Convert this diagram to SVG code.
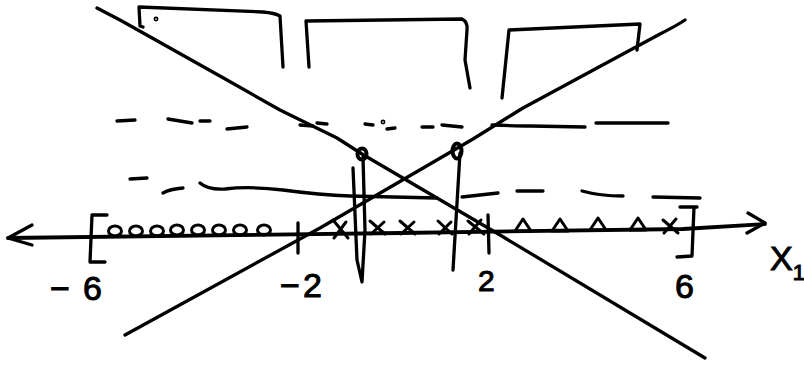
<svg xmlns="http://www.w3.org/2000/svg" width="804" height="365" viewBox="0 0 804 365">
<style>
.s{fill:none;stroke:#000;stroke-width:3.3;stroke-linecap:round;stroke-linejoin:round}
.t{stroke-width:3}
.lbl{font-family:"Liberation Sans",Arial,sans-serif;font-size:34px;fill:#000;stroke:#000;stroke-width:1}
</style>
<rect width="804" height="365" fill="#fff"/>
<g id="connectors">
<path id="lineA" class="s" d="M97,8 L120,20 L227,80 L280,110 L337,138 L362,154 L500,235 L705,358"/>
<path id="lineB" class="s" d="M125,335 L320,228 L473,139 L523,108 L660,34 Q676,26 685,20"/>
</g>
<g id="axis">
<path class="s" style="stroke-width:3.8" d="M8,238 L400,233 L683,229 L765,224"/>
<path class="s" d="M32,225 L8,238 L32,245"/>
<path class="s" d="M748,213 L765,223 L747,233"/>
<path class="s" d="M298,223 L298,253"/>
<path class="s" d="M488,215 L489,253"/>
<path class="s" d="M107,215 L92,215 L90,262 L105,262"/>
<path class="s" d="M680,207 L697,207 M694,207 L692,256 M677,257 L692,256"/>
</g>
<g id="circles" class="s t">
<ellipse cx="115" cy="231" rx="6.5" ry="5"/>
<ellipse cx="136" cy="231" rx="6.5" ry="5"/>
<ellipse cx="157" cy="231" rx="6.5" ry="5"/>
<ellipse cx="177" cy="230" rx="6.5" ry="5"/>
<ellipse cx="198" cy="230" rx="6.5" ry="5"/>
<ellipse cx="219" cy="230" rx="6.5" ry="5"/>
<ellipse cx="240" cy="230" rx="6.5" ry="5"/>
<ellipse cx="264" cy="230" rx="6.5" ry="5"/>
</g>
<g id="crosses" class="s t">
<path d="M333,220 L348,238 M334,238 L346,222"/>
<path d="M370,221 L385,234 M371,234 L384,222"/>
<path d="M400,221 L415,234 M401,234 L414,222"/>
<path d="M438,221 L452,234 M439,234 L451,222"/>
<path d="M468,221 L484,234 M469,234 L481,220"/>
<path d="M663,220 L678,233 M664,233 L676,219"/>
</g>
<g id="triangles" class="s t">
<path d="M515,231 L523,219 L531,231 Z"/>
<path d="M552,231 L560,219 L568,231 Z"/>
<path d="M590,230 L598,218 L606,230 Z"/>
<path d="M630,230 L638,218 L646,230 Z"/>
</g>
<g id="points" class="s">
<ellipse cx="362" cy="154" rx="4.5" ry="5.5" style="stroke-width:4"/>
<ellipse cx="457" cy="151" rx="4.5" ry="7.5" style="stroke-width:4"/>
<path d="M353,168 L357,260 L362,282 L365,230 L363,157"/>
<path d="M460,153 L453,270"/>
</g>
<g id="brackets" class="s">
<path d="M143,27 L140,26 L139,7 L263,12 Q275,13 280,16 L283,67"/>
<circle cx="156" cy="19" r="0.8"/>
<path d="M309,67 L306,21 L462,19 Q468,22 467,30 L465,60 L470,88"/>
<path d="M502,98 L509,30 L640,24 L637,50"/>
</g>
<g id="dashes" class="s">
<path d="M117,121 L135,120"/>
<path d="M168,119 L192,123"/>
<path d="M200,121 L210,121"/>
<path d="M227,129 L247,127"/>
<path d="M300,125 L313,126"/>
<path d="M317,123 L327,124"/>
<path d="M365,124 L373,125"/>
<circle cx="383" cy="122" r="0.8"/>
<path d="M387,129 L395,128"/>
<path d="M422,127 L433,127"/>
<path d="M442,125 L462,127"/>
<path d="M492,125 Q520,126 530,126 L585,127"/>
<path d="M596,123 L630,123 L668,123"/>
<path d="M130,179 L147,178"/>
<path d="M163,193 Q170,189 183,188"/>
<path d="M200,183 Q208,190 225,189 Q250,186 283,190 Q320,195 350,196 L437,198"/>
<path d="M462,197 L498,193"/>
<path d="M517,191 L543,191"/>
<path d="M582,191 Q600,196 623,196"/>
<path d="M653,197 L700,198"/>
</g>
<g id="labels">
<text class="lbl" x="50" y="300" textLength="52" lengthAdjust="spacing">−6</text>
<text class="lbl" x="280" y="297" textLength="42" lengthAdjust="spacing">−2</text>
<text class="lbl" x="478" y="291" style="font-size:30px">2</text>
<text class="lbl" x="675" y="298">6</text>
<text class="lbl" x="770" y="270">X<tspan font-size="22" dy="10">1</tspan></text>
</g>
</svg>
